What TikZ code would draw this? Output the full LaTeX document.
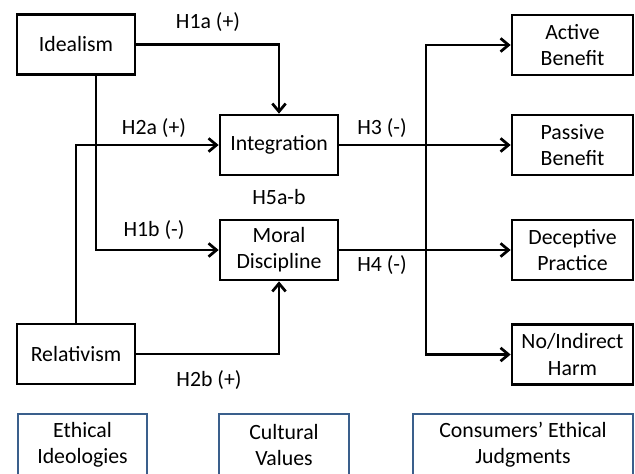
\documentclass[tikz,border=0pt]{standalone}
\usepackage{fontspec}
\setmainfont{Carlito}
\usepackage{xcolor}
\usepackage{tikz}
\usetikzlibrary{positioning, arrows.meta, calc}
\definecolor{groupblue}{RGB}{58, 95, 140}
\tikzset{
  var/.style={draw=black, line width=2.3pt, align=center, inner sep=0pt,
              minimum width=#1, minimum height=1.8cm},
  var/.default=3.54cm,
  grp/.style={draw=groupblue, line width=1.6pt, align=center, inner sep=0pt,
              minimum height=1.86cm},
  arr/.style={-{Straight Barb[length=0.24cm, width=0.4cm, line width=2.3pt]},
              line width=2.3pt},
  lbl/.style={align=center, inner sep=0pt},
}

\begin{document}
\begin{tikzpicture}[x=0.03cm, y=-0.03cm,
  every node/.style={font=\fontsize{18.6}{22.4}\selectfont}]
\useasboundingbox (0,0) rectangle (635,474);

% ===================== ethical ideologies ==================
\node[var] (idealism)   at (76,44.5) {Idealism};
\node[var] (relativism) at (76,354)  {Relativism};

% ===================== cultural values ==================
\node[var] (integ) at (279,145) {Integration};
\node[var] (moral) at (279,250) {Moral\\Discipline};

% ===================== ethical judgments ==================
\node[var=3.63cm] (active)    at (572.5,45)    {Active\\Benefit};
\node[var=3.63cm] (passive)   at (572.5,145)   {Passive\\Benefit};
\node[var=3.63cm] (deceptive) at (572.5,250)   {Deceptive\\Practice};
\node[var=3.63cm] (harm)      at (572.5,354.5) {No/Indirect\\Harm};

% arrows: ideologies -> values
\draw[arr] (idealism.east) -| (integ.north);
\draw[arr] ($(idealism.south)+(20,0)$) |- (moral.west);
\draw[arr] (relativism.north) |- (integ.west);
\draw[arr] (relativism.east) -| (moral.south);

% arrows: values -> judgments
\draw[arr] (integ.east) -- (passive.west);
\draw[arr] (moral.east) -- (deceptive.west);
\coordinate (fork) at (426,200);
\draw[arr] (fork) |- (active.west);
\draw[arr] (fork) |- (harm.west);

% hypothesis labels
\node[lbl] (h1a) at (208,22)  {H1a (+)};
\node[lbl] (h2a) at (154,128) {H2a (+)};
\node[lbl] (h1b) at (154,230) {H1b (-)};
\node[lbl] (h2b) at (209,380) {H2b (+)};
\node[lbl] (h5)  at (279,197) {H5a-b};
\node[lbl] (h3)  at (382,128) {H3 (-)};
\node[lbl] (h4)  at (382,265) {H4 (-)};

% group boxes
\node[grp, minimum width=3.87cm] (ideol)  at (82.5,445) {Ethical\\Ideologies};
\node[grp, minimum width=3.9cm]  (values) at (284,445)  {Cultural\\Values};
\node[grp, minimum width=6.6cm]  (judge)  at (523,445)  {Consumers’ Ethical\\Judgments};

\end{tikzpicture}
\end{document}
